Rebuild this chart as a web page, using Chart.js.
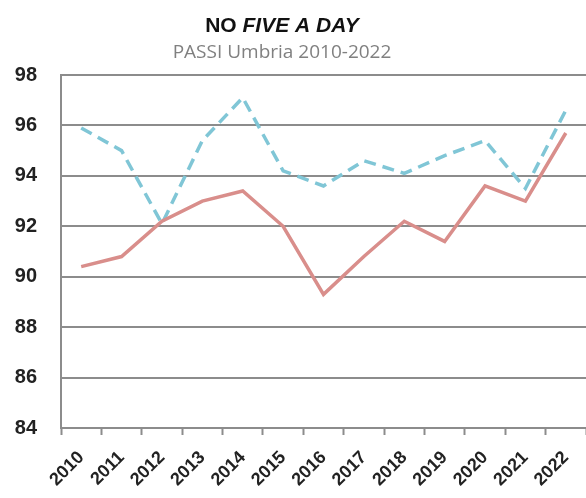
<!DOCTYPE html>
<html>
<head>
<meta charset="utf-8">
<script src="https://cdn.jsdelivr.net/npm/chart.js@4/dist/chart.umd.min.js"></script>
<style>
  html, body { margin: 0; padding: 0; background: #fff; }
  #wrap { width: 586px; height: 498px; position: relative; }
</style>
</head>
<body>
<div id="wrap"><canvas id="chart-five"></canvas></div>
<script>
var years = ["2010", "2011", "2012", "2013", "2014", "2015", "2016", "2017", "2018", "2019", "2020", "2021", "2022"];
var umbria = [90.4, 90.8, 92.2, 93.0, 93.4, 92.0, 89.3, 90.8, 92.2, 91.4, 93.6, 93.0, 95.7];
var italia = [95.9, 95.0, 92.1, 95.4, 97.1, 94.2, 93.6, 94.6, 94.1, 94.8, 95.4, 93.5, 96.6];
var yTicks = [84, 86, 88, 90, 92, 94, 96, 98];

// title with mixed style: "NO" bold, "FIVE A DAY" bold italic
var titlePlugin = {
  id: "titoli",
  afterDraw: function (chart) {
    var c = chart.ctx;
    c.save();
    c.fillStyle = "#111";
    c.textBaseline = "alphabetic";
    var f1 = "bold 21px 'Liberation Sans', Arial, sans-serif";
    var f2 = "italic bold 21px 'Liberation Sans', Arial, sans-serif";
    c.font = f1;
    var w1 = c.measureText("NO ").width;
    c.font = f2;
    var w2 = c.measureText("FIVE A DAY").width;
    var x = 282 - (w1 + w2) / 2;
    c.font = f1;
    c.textAlign = "left";
    c.fillText("NO ", x, 32);
    c.font = f2;
    c.fillText("FIVE A DAY", x + w1, 32);
    c.font = "19px 'Open Sans', sans-serif";
    c.fillStyle = "#808080";
    c.textAlign = "center";
    c.fillText("PASSI Umbria 2010-2022", 282, 58);
    c.restore();
  }
};

var ctx = document.getElementById("chart-five");

var data1 = {
  labels: years,
  datasets: [
    {
      label: "Umbria",
      data: umbria,
      borderColor: "#d98e8b",
      borderWidth: 3.5,
      pointRadius: 0,
      tension: 0,
      fill: false
    },
    {
      label: "Italia",
      data: italia,
      borderColor: "#80c6d6",
      borderWidth: 3.5,
      borderDash: [12, 7],
      pointRadius: 0,
      tension: 0,
      fill: false
    }
  ]
};

var options = {
  responsive: true,
  maintainAspectRatio: false,
  animation: false,
  layout: { padding: { top: 75, left: 0, right: 0, bottom: 0 } },
  plugins: {
    legend: { display: false },
    title: { display: false },
    tooltip: { enabled: false }
  },
  scales: {
    x: {
      type: "category",
      offset: true,
      afterFit: function (axis) {
        axis.paddingLeft = 0;
        axis.paddingRight = 0;
        axis.height = 70;
      },
      grid: {
        offset: true,
        drawOnChartArea: false,
        drawTicks: true,
        tickLength: 7,
        tickWidth: 2,
        tickColor: "#8c8c8c"
      },
      border: { display: true, color: "#8c8c8c", width: 2 },
      ticks: {
        minRotation: 45,
        maxRotation: 45,
        padding: 12,
        color: "#222",
        font: { family: "'Liberation Sans', Arial, sans-serif", size: 18, weight: "bold" }
      }
    },
    y: {
      min: 84,
      max: 98,
      afterBuildTicks: function (axis) {
        axis.ticks = yTicks.map(function (v) { return { value: v }; });
      },
      afterFit: function (axis) {
        axis.width = 61;
        axis.paddingTop = 0;
        axis.paddingBottom = 0;
      },
      grid: {
        color: "#8c8c8c",
        lineWidth: 2,
        drawTicks: false
      },
      border: { display: true, color: "#8c8c8c", width: 2 },
      ticks: {
        padding: 24,
        color: "#222",
        font: { family: "'Liberation Sans', Arial, sans-serif", size: 20, weight: "bold" }
      }
    }
  }
};

var chart1 = new Chart(ctx, {
  type: "line",
  data: data1,
  options: options,
  plugins: [titlePlugin]
});
</script>
</body>
</html>
